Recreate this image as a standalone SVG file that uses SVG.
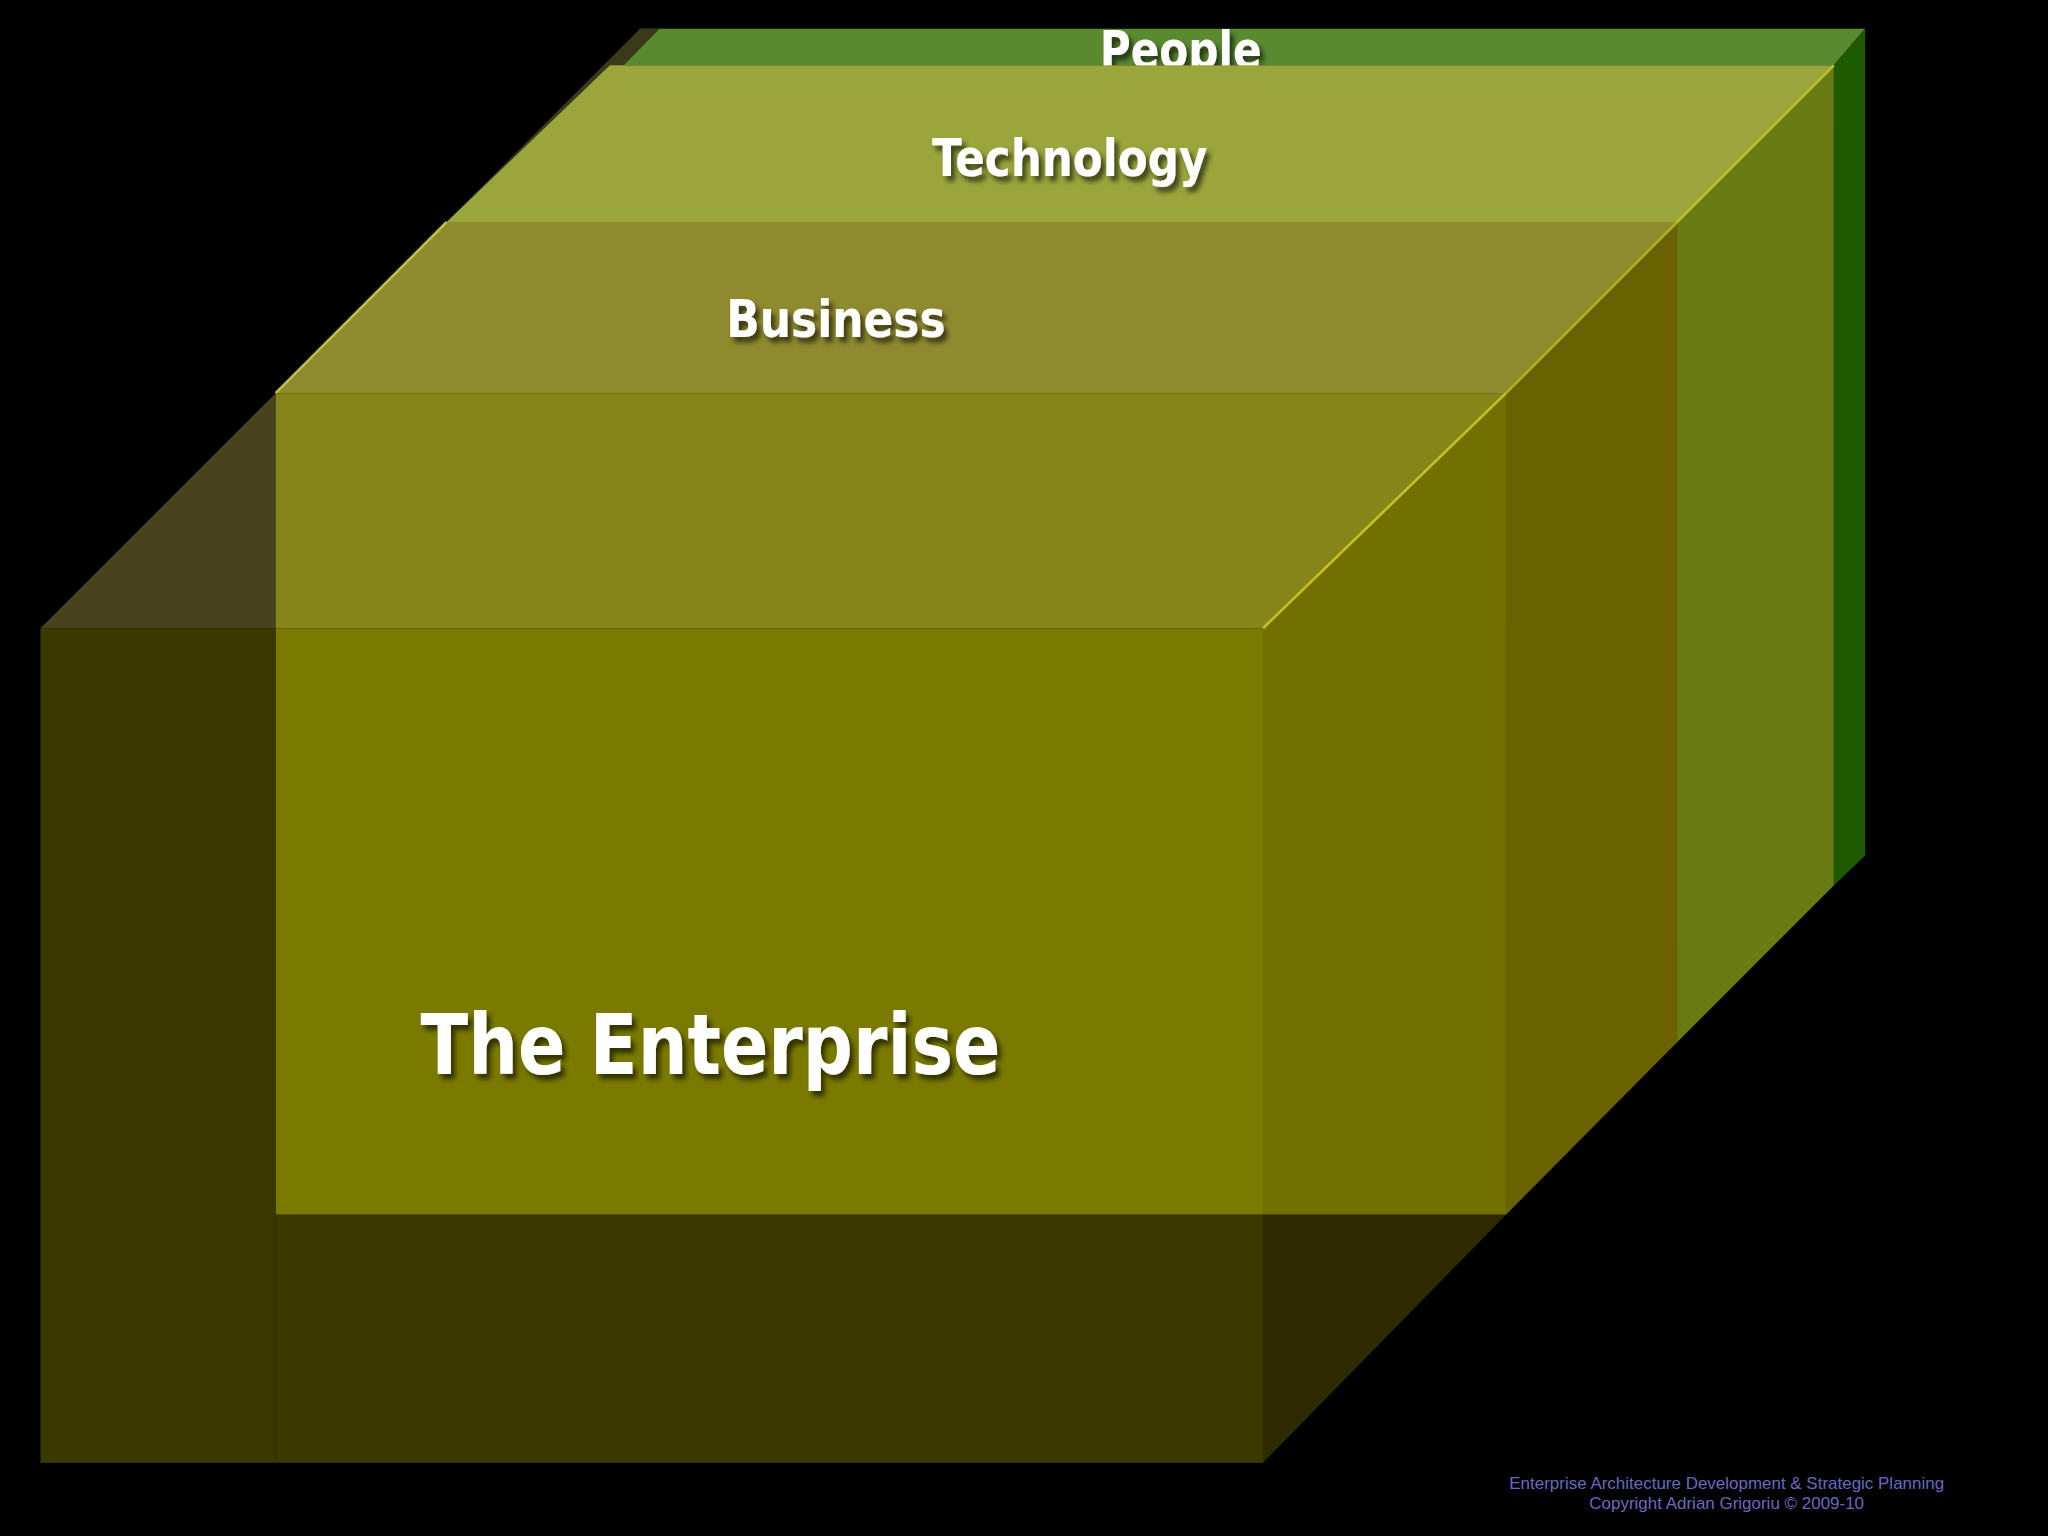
<svg xmlns="http://www.w3.org/2000/svg" width="2048" height="1536" viewBox="0 0 2048 1536">
<defs>
<filter id="sh" x="-10%" y="-30%" width="130%" height="180%"><feDropShadow dx="3" dy="4" stdDeviation="2" flood-color="#000" flood-opacity="0.6"/></filter>
<style>
.lbl{font-family:"DejaVu Sans","Liberation Sans",sans-serif;font-weight:bold;fill:#fff;font-stretch:condensed;filter:url(#sh)}
.foot{font-family:"Liberation Sans",Arial,sans-serif;font-size:13px;fill:#6a68c0;text-anchor:middle}
</style>
</defs>
<rect width="2048" height="1536" fill="#000"/>
<g transform="scale(1.30612)">
<g id="people">
<polygon points="490,22 1428,22 1404,50 467,50" fill="#5a8a30"/>
<polygon points="1404,50 1428,22 1428,655 1404,678" fill="#1e5a00"/>
<polygon points="490,22 505,22 360,170 342,170" fill="#3a3a1a"/>
<text class="lbl" x="904" y="52" font-size="40" text-anchor="middle" textLength="124" lengthAdjust="spacingAndGlyphs">People</text>
</g>
<g id="technology">
<polygon points="467,50 1404,50 1284,170 342,170" fill="#9aa63c"/>
<polygon points="1284,170 1404,50 1404,678 1284,798" fill="#6a7a14"/>
<line x1="1284" y1="170" x2="1404" y2="50" stroke="#b8c030" stroke-width="2"/>
<text class="lbl" x="819" y="135" font-size="40" text-anchor="middle" textLength="211" lengthAdjust="spacingAndGlyphs">Technology</text>
</g>
<g id="business">
<polygon points="342,170 1284,170 1153,301 211,301" fill="#8f8a2e"/>
<polygon points="1153,301 1284,170 1284,798 1153,930" fill="#6a6200"/>
<line x1="211" y1="301" x2="342" y2="170" stroke="#c0c040" stroke-width="2"/>
<line x1="1153" y1="301" x2="1284" y2="170" stroke="#b0b020" stroke-width="2"/>
<text class="lbl" x="640" y="258" font-size="40" text-anchor="middle" textLength="168" lengthAdjust="spacingAndGlyphs">Business</text>
</g>
<g id="enterprise">
<polygon points="31,481 211,301 211,481" fill="#48431e"/>
<rect x="211" y="301" width="942" height="180" fill="#868519"/>
<polygon points="967,481 1153,301 1153,930 967,930" fill="#727000"/>
<line x1="967" y1="481" x2="1153" y2="301" stroke="#c8c020" stroke-width="2"/>
<rect x="211" y="481" width="756" height="449" fill="#7a7a00"/>
<rect x="31" y="481" width="180" height="639" fill="#3b3800"/>
<rect x="211" y="930" width="756" height="190" fill="#3b3800"/>
<polygon points="967,930 1153,930 967,1120" fill="#2e2b03"/>
<text class="lbl" x="544" y="822" font-size="64" text-anchor="middle" textLength="444" lengthAdjust="spacingAndGlyphs">The Enterprise</text>
</g>
<g id="footer">
<text class="foot" x="1322" y="1140">Enterprise Architecture Development &amp; Strategic Planning</text>
<text class="foot" x="1322" y="1155">Copyright Adrian Grigoriu © 2009-10</text>
</g>
</g>
<g id="connectors"/>
</svg>
